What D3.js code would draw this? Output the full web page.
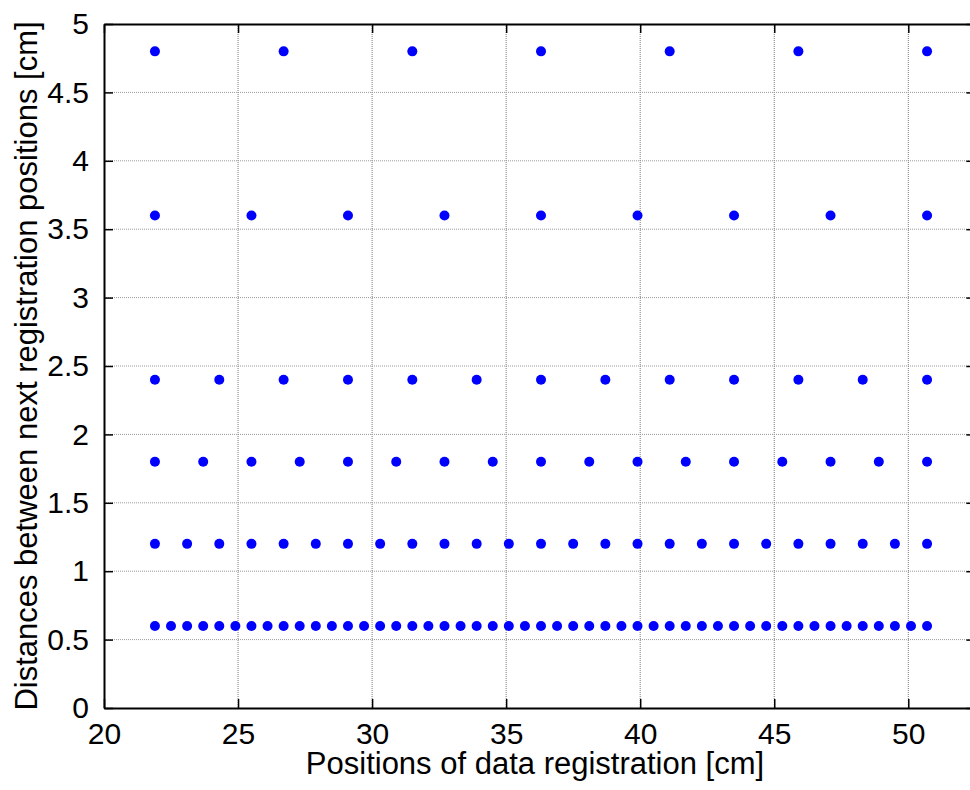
<!DOCTYPE html>
<html>
<head>
<meta charset="utf-8">
<script src="https://d3js.org/d3.v7.min.js"></script>
<style>
  body { margin: 0; background: #fff; }
  text { font-family: "Liberation Sans", Arial, sans-serif; fill: #000; }
</style>
</head>
<body>
<script>
  var width = 970;
  var height = 790;

  // registration positions [cm] for each distance step
  var pos06 = [21.9, 22.5, 23.1, 23.7, 24.3, 24.9, 25.5, 26.1, 26.7, 27.3, 27.9, 28.5, 29.1, 29.7,
    30.3, 30.9, 31.5, 32.1, 32.7, 33.3, 33.9, 34.5, 35.1, 35.7, 36.3, 36.9, 37.5, 38.1, 38.7, 39.3,
    39.9, 40.5, 41.1, 41.7, 42.3, 42.9, 43.5, 44.1, 44.7, 45.3, 45.9, 46.5, 47.1, 47.7, 48.3, 48.9,
    49.5, 50.1, 50.7];
  var pos12 = [21.9, 23.1, 24.3, 25.5, 26.7, 27.9, 29.1, 30.3, 31.5, 32.7, 33.9, 35.1, 36.3, 37.5,
    38.7, 39.9, 41.1, 42.3, 43.5, 44.7, 45.9, 47.1, 48.3, 49.5, 50.7];
  var pos18 = [21.9, 23.7, 25.5, 27.3, 29.1, 30.9, 32.7, 34.5, 36.3, 38.1, 39.9, 41.7, 43.5, 45.3,
    47.1, 48.9, 50.7];
  var pos24 = [21.9, 24.3, 26.7, 29.1, 31.5, 33.9, 36.3, 38.7, 41.1, 43.5, 45.9, 48.3, 50.7];
  var pos36 = [21.9, 25.5, 29.1, 32.7, 36.3, 39.9, 43.5, 47.1, 50.7];
  var pos48 = [21.9, 26.7, 31.5, 36.3, 41.1, 45.9, 50.7];

  var distances = [0.6, 1.2, 1.8, 2.4, 3.6, 4.8];
  var positions = [pos06, pos12, pos18, pos24, pos36, pos48];

  var xTicks = [20, 25, 30, 35, 40, 45, 50];
  var yTicks = [0, 0.5, 1, 1.5, 2, 2.5, 3, 3.5, 4, 4.5, 5];
  var yTickLabels = ["0", "0.5", "1", "1.5", "2", "2.5", "3", "3.5", "4", "4.5", "5"];

  var mLeft = 104, mTop = 24, mBottom = 708;
  var tickLen = 9;

  var x = d3.scaleLinear().domain([20, 52.5]).range([mLeft, mLeft + 32.5 * 26.81]);
  var y = d3.scaleLinear().domain([0, 5]).range([mBottom, mTop]);
  var mRight = x.range()[1];

  var svg = d3.select("body")
    .append("svg")
    .attr("width", width)
    .attr("height", height);

  // grid
  svg.append("g").selectAll("line")
    .data(xTicks.slice(1))
    .enter()
    .append("line")
    .attr("x1", function(d) { return x(d); })
    .attr("x2", function(d) { return x(d); })
    .attr("y1", mTop)
    .attr("y2", mBottom)
    .style("stroke", "#7a7a7a")
    .style("stroke-width", 1)
    .style("stroke-dasharray", "1,1");

  svg.append("g").selectAll("line")
    .data(yTicks.slice(1, -1))
    .enter()
    .append("line")
    .attr("x1", mLeft)
    .attr("x2", mRight)
    .attr("y1", function(d) { return y(d); })
    .attr("y2", function(d) { return y(d); })
    .style("stroke", "#9a9a9a")
    .style("stroke-width", 1)
    .style("stroke-dasharray", "1,1");

  // points
  var pts = [];
  for (var i = 0; i < distances.length; i++) {
    for (var j = 0; j < positions[i].length; j++) {
      pts.push({ x: positions[i][j], y: distances[i] });
    }
  }

  svg.append("g").selectAll("circle")
    .data(pts)
    .enter()
    .append("circle")
    .attr("cx", function(d) { return x(d.x); })
    .attr("cy", function(d) { return y(d.y); })
    .attr("r", 5)
    .style("fill", "#0000ff");

  // axes: ticks inside on all four sides
  var axisBottom = d3.axisBottom(x).tickValues(xTicks).tickSizeInner(-tickLen).tickSizeOuter(0).tickPadding(15);
  var axisTop = d3.axisTop(x).tickValues(xTicks).tickSizeInner(-tickLen).tickSizeOuter(0).tickFormat("");
  var axisLeft = d3.axisLeft(y).tickValues(yTicks).tickSizeInner(-tickLen).tickSizeOuter(0).tickPadding(15)
    .tickFormat(function(d, i) { return yTickLabels[i]; });
  var axisRight = d3.axisRight(y).tickValues(yTicks).tickSizeInner(-tickLen).tickSizeOuter(0).tickFormat("");

  function style(g) {
    g.select(".domain").style("stroke", "#000").style("stroke-width", 2);
    g.selectAll(".tick line").style("stroke", "#000").style("stroke-width", 1.5);
    g.selectAll(".tick text").style("font-size", "30px").style("fill", "#000")
      .style("font-family", "'Liberation Sans', Arial, sans-serif");
  }

  svg.append("g").attr("transform", "translate(0," + mBottom + ")").call(axisBottom).call(style);
  svg.append("g").attr("transform", "translate(0," + mTop + ")").call(axisTop).call(style);
  svg.append("g").attr("transform", "translate(" + mLeft + ",0)").call(axisLeft).call(style);
  svg.append("g").attr("transform", "translate(" + mRight + ",0)").call(axisRight).call(style);

  // axis labels
  svg.append("text")
    .attr("x", 535)
    .attr("y", 774)
    .attr("text-anchor", "middle")
    .style("font-size", "31px")
    .text("Positions of data registration [cm]");

  svg.append("text")
    .attr("transform", "translate(37,366) rotate(-90)")
    .attr("text-anchor", "middle")
    .style("font-size", "31px")
    .text("Distances between next registration positions [cm]");
</script>
</body>
</html>
